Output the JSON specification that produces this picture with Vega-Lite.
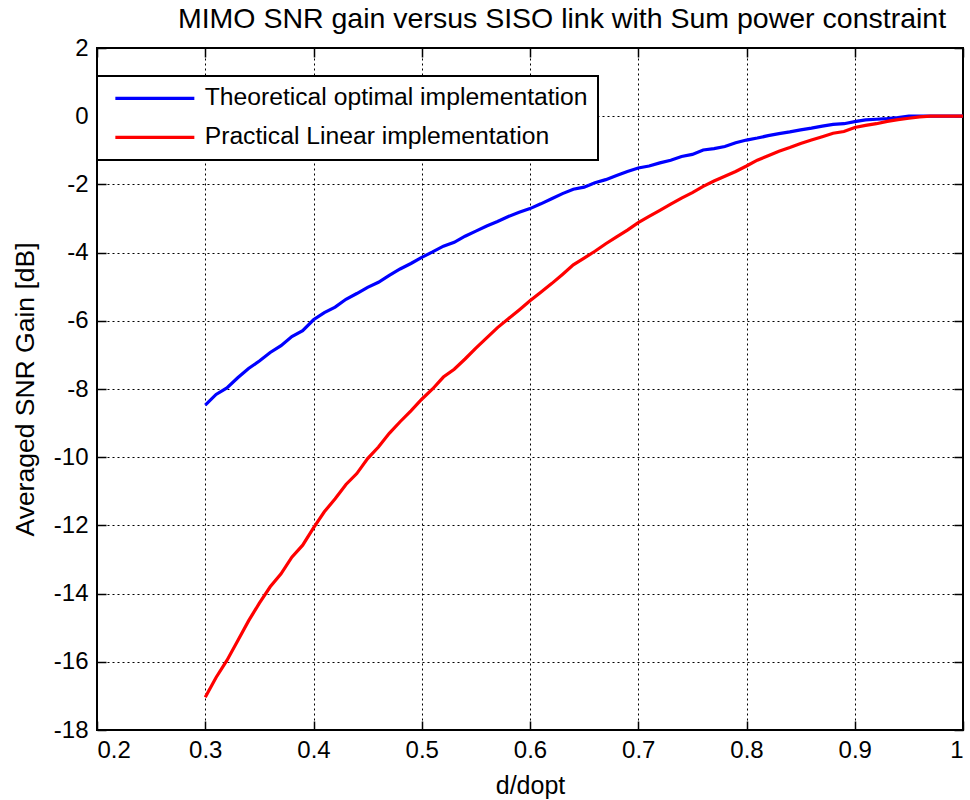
{
  "$schema": "https://vega.github.io/schema/vega-lite/v6.json",
  "width": 866,
  "height": 682,
  "autosize": "none",
  "padding": {"left": 97, "top": 48, "right": 7, "bottom": 70},
  "background": "white",
  "config": {
    "font": "Liberation Sans",
    "view": {"stroke": "black", "strokeWidth": 2},
    "axis": {"labelFont": "Liberation Sans", "titleFont": "Liberation Sans", "labelColor": "black", "titleColor": "black", "titleFontWeight": "normal", "gridDash": [2, 3]},
    "legend": {"strokeColor": "black", "strokeWidth": 2, "fillColor": "white"}
  },
  "title": {"text": "MIMO SNR gain versus SISO link with Sum power constraint", "fontSize": 28.5, "fontWeight": "normal", "font": "Liberation Sans", "color": "black", "anchor": "middle", "offset": 3, "dx": 32},
  "datasets": {
    "curves": [
      {"d":0.30,"gain":-8.47,"series":"Theoretical optimal implementation"},
      {"d":0.31,"gain":-8.16,"series":"Theoretical optimal implementation"},
      {"d":0.32,"gain":-7.97,"series":"Theoretical optimal implementation"},
      {"d":0.33,"gain":-7.67,"series":"Theoretical optimal implementation"},
      {"d":0.34,"gain":-7.40,"series":"Theoretical optimal implementation"},
      {"d":0.35,"gain":-7.18,"series":"Theoretical optimal implementation"},
      {"d":0.36,"gain":-6.93,"series":"Theoretical optimal implementation"},
      {"d":0.37,"gain":-6.73,"series":"Theoretical optimal implementation"},
      {"d":0.38,"gain":-6.46,"series":"Theoretical optimal implementation"},
      {"d":0.39,"gain":-6.29,"series":"Theoretical optimal implementation"},
      {"d":0.40,"gain":-5.97,"series":"Theoretical optimal implementation"},
      {"d":0.41,"gain":-5.76,"series":"Theoretical optimal implementation"},
      {"d":0.42,"gain":-5.60,"series":"Theoretical optimal implementation"},
      {"d":0.43,"gain":-5.37,"series":"Theoretical optimal implementation"},
      {"d":0.44,"gain":-5.20,"series":"Theoretical optimal implementation"},
      {"d":0.45,"gain":-5.02,"series":"Theoretical optimal implementation"},
      {"d":0.46,"gain":-4.87,"series":"Theoretical optimal implementation"},
      {"d":0.47,"gain":-4.67,"series":"Theoretical optimal implementation"},
      {"d":0.48,"gain":-4.48,"series":"Theoretical optimal implementation"},
      {"d":0.49,"gain":-4.32,"series":"Theoretical optimal implementation"},
      {"d":0.50,"gain":-4.14,"series":"Theoretical optimal implementation"},
      {"d":0.51,"gain":-3.98,"series":"Theoretical optimal implementation"},
      {"d":0.52,"gain":-3.81,"series":"Theoretical optimal implementation"},
      {"d":0.53,"gain":-3.70,"series":"Theoretical optimal implementation"},
      {"d":0.54,"gain":-3.52,"series":"Theoretical optimal implementation"},
      {"d":0.55,"gain":-3.37,"series":"Theoretical optimal implementation"},
      {"d":0.56,"gain":-3.22,"series":"Theoretical optimal implementation"},
      {"d":0.57,"gain":-3.09,"series":"Theoretical optimal implementation"},
      {"d":0.58,"gain":-2.94,"series":"Theoretical optimal implementation"},
      {"d":0.59,"gain":-2.82,"series":"Theoretical optimal implementation"},
      {"d":0.60,"gain":-2.71,"series":"Theoretical optimal implementation"},
      {"d":0.61,"gain":-2.57,"series":"Theoretical optimal implementation"},
      {"d":0.62,"gain":-2.42,"series":"Theoretical optimal implementation"},
      {"d":0.63,"gain":-2.27,"series":"Theoretical optimal implementation"},
      {"d":0.64,"gain":-2.14,"series":"Theoretical optimal implementation"},
      {"d":0.65,"gain":-2.08,"series":"Theoretical optimal implementation"},
      {"d":0.66,"gain":-1.95,"series":"Theoretical optimal implementation"},
      {"d":0.67,"gain":-1.86,"series":"Theoretical optimal implementation"},
      {"d":0.68,"gain":-1.74,"series":"Theoretical optimal implementation"},
      {"d":0.69,"gain":-1.62,"series":"Theoretical optimal implementation"},
      {"d":0.70,"gain":-1.52,"series":"Theoretical optimal implementation"},
      {"d":0.71,"gain":-1.46,"series":"Theoretical optimal implementation"},
      {"d":0.72,"gain":-1.37,"series":"Theoretical optimal implementation"},
      {"d":0.73,"gain":-1.29,"series":"Theoretical optimal implementation"},
      {"d":0.74,"gain":-1.18,"series":"Theoretical optimal implementation"},
      {"d":0.75,"gain":-1.12,"series":"Theoretical optimal implementation"},
      {"d":0.76,"gain":-0.99,"series":"Theoretical optimal implementation"},
      {"d":0.77,"gain":-0.95,"series":"Theoretical optimal implementation"},
      {"d":0.78,"gain":-0.89,"series":"Theoretical optimal implementation"},
      {"d":0.79,"gain":-0.78,"series":"Theoretical optimal implementation"},
      {"d":0.80,"gain":-0.70,"series":"Theoretical optimal implementation"},
      {"d":0.81,"gain":-0.64,"series":"Theoretical optimal implementation"},
      {"d":0.82,"gain":-0.57,"series":"Theoretical optimal implementation"},
      {"d":0.83,"gain":-0.51,"series":"Theoretical optimal implementation"},
      {"d":0.84,"gain":-0.46,"series":"Theoretical optimal implementation"},
      {"d":0.85,"gain":-0.40,"series":"Theoretical optimal implementation"},
      {"d":0.86,"gain":-0.35,"series":"Theoretical optimal implementation"},
      {"d":0.87,"gain":-0.29,"series":"Theoretical optimal implementation"},
      {"d":0.88,"gain":-0.24,"series":"Theoretical optimal implementation"},
      {"d":0.89,"gain":-0.22,"series":"Theoretical optimal implementation"},
      {"d":0.90,"gain":-0.16,"series":"Theoretical optimal implementation"},
      {"d":0.91,"gain":-0.11,"series":"Theoretical optimal implementation"},
      {"d":0.92,"gain":-0.09,"series":"Theoretical optimal implementation"},
      {"d":0.93,"gain":-0.07,"series":"Theoretical optimal implementation"},
      {"d":0.94,"gain":-0.04,"series":"Theoretical optimal implementation"},
      {"d":0.95,"gain":0.0,"series":"Theoretical optimal implementation"},
      {"d":0.96,"gain":0.0,"series":"Theoretical optimal implementation"},
      {"d":0.97,"gain":0.0,"series":"Theoretical optimal implementation"},
      {"d":0.98,"gain":0.0,"series":"Theoretical optimal implementation"},
      {"d":0.99,"gain":0.0,"series":"Theoretical optimal implementation"},
      {"d":1.00,"gain":0.0,"series":"Theoretical optimal implementation"},
      {"d":0.30,"gain":-17.04,"series":"Practical Linear implementation"},
      {"d":0.31,"gain":-16.46,"series":"Practical Linear implementation"},
      {"d":0.32,"gain":-15.96,"series":"Practical Linear implementation"},
      {"d":0.33,"gain":-15.38,"series":"Practical Linear implementation"},
      {"d":0.34,"gain":-14.80,"series":"Practical Linear implementation"},
      {"d":0.35,"gain":-14.28,"series":"Practical Linear implementation"},
      {"d":0.36,"gain":-13.80,"series":"Practical Linear implementation"},
      {"d":0.37,"gain":-13.42,"series":"Practical Linear implementation"},
      {"d":0.38,"gain":-12.93,"series":"Practical Linear implementation"},
      {"d":0.39,"gain":-12.58,"series":"Practical Linear implementation"},
      {"d":0.40,"gain":-12.07,"series":"Practical Linear implementation"},
      {"d":0.41,"gain":-11.60,"series":"Practical Linear implementation"},
      {"d":0.42,"gain":-11.22,"series":"Practical Linear implementation"},
      {"d":0.43,"gain":-10.80,"series":"Practical Linear implementation"},
      {"d":0.44,"gain":-10.48,"series":"Practical Linear implementation"},
      {"d":0.45,"gain":-10.04,"series":"Practical Linear implementation"},
      {"d":0.46,"gain":-9.70,"series":"Practical Linear implementation"},
      {"d":0.47,"gain":-9.30,"series":"Practical Linear implementation"},
      {"d":0.48,"gain":-8.96,"series":"Practical Linear implementation"},
      {"d":0.49,"gain":-8.64,"series":"Practical Linear implementation"},
      {"d":0.50,"gain":-8.30,"series":"Practical Linear implementation"},
      {"d":0.51,"gain":-8.00,"series":"Practical Linear implementation"},
      {"d":0.52,"gain":-7.65,"series":"Practical Linear implementation"},
      {"d":0.53,"gain":-7.42,"series":"Practical Linear implementation"},
      {"d":0.54,"gain":-7.12,"series":"Practical Linear implementation"},
      {"d":0.55,"gain":-6.80,"series":"Practical Linear implementation"},
      {"d":0.56,"gain":-6.50,"series":"Practical Linear implementation"},
      {"d":0.57,"gain":-6.20,"series":"Practical Linear implementation"},
      {"d":0.58,"gain":-5.94,"series":"Practical Linear implementation"},
      {"d":0.59,"gain":-5.68,"series":"Practical Linear implementation"},
      {"d":0.60,"gain":-5.41,"series":"Practical Linear implementation"},
      {"d":0.61,"gain":-5.16,"series":"Practical Linear implementation"},
      {"d":0.62,"gain":-4.91,"series":"Practical Linear implementation"},
      {"d":0.63,"gain":-4.64,"series":"Practical Linear implementation"},
      {"d":0.64,"gain":-4.36,"series":"Practical Linear implementation"},
      {"d":0.65,"gain":-4.16,"series":"Practical Linear implementation"},
      {"d":0.66,"gain":-3.96,"series":"Practical Linear implementation"},
      {"d":0.67,"gain":-3.74,"series":"Practical Linear implementation"},
      {"d":0.68,"gain":-3.54,"series":"Practical Linear implementation"},
      {"d":0.69,"gain":-3.34,"series":"Practical Linear implementation"},
      {"d":0.70,"gain":-3.12,"series":"Practical Linear implementation"},
      {"d":0.71,"gain":-2.94,"series":"Practical Linear implementation"},
      {"d":0.72,"gain":-2.76,"series":"Practical Linear implementation"},
      {"d":0.73,"gain":-2.58,"series":"Practical Linear implementation"},
      {"d":0.74,"gain":-2.40,"series":"Practical Linear implementation"},
      {"d":0.75,"gain":-2.24,"series":"Practical Linear implementation"},
      {"d":0.76,"gain":-2.06,"series":"Practical Linear implementation"},
      {"d":0.77,"gain":-1.90,"series":"Practical Linear implementation"},
      {"d":0.78,"gain":-1.76,"series":"Practical Linear implementation"},
      {"d":0.79,"gain":-1.62,"series":"Practical Linear implementation"},
      {"d":0.80,"gain":-1.46,"series":"Practical Linear implementation"},
      {"d":0.81,"gain":-1.29,"series":"Practical Linear implementation"},
      {"d":0.82,"gain":-1.16,"series":"Practical Linear implementation"},
      {"d":0.83,"gain":-1.03,"series":"Practical Linear implementation"},
      {"d":0.84,"gain":-0.92,"series":"Practical Linear implementation"},
      {"d":0.85,"gain":-0.80,"series":"Practical Linear implementation"},
      {"d":0.86,"gain":-0.70,"series":"Practical Linear implementation"},
      {"d":0.87,"gain":-0.60,"series":"Practical Linear implementation"},
      {"d":0.88,"gain":-0.50,"series":"Practical Linear implementation"},
      {"d":0.89,"gain":-0.45,"series":"Practical Linear implementation"},
      {"d":0.90,"gain":-0.33,"series":"Practical Linear implementation"},
      {"d":0.91,"gain":-0.27,"series":"Practical Linear implementation"},
      {"d":0.92,"gain":-0.22,"series":"Practical Linear implementation"},
      {"d":0.93,"gain":-0.15,"series":"Practical Linear implementation"},
      {"d":0.94,"gain":-0.10,"series":"Practical Linear implementation"},
      {"d":0.95,"gain":-0.06,"series":"Practical Linear implementation"},
      {"d":0.96,"gain":-0.02,"series":"Practical Linear implementation"},
      {"d":0.97,"gain":0.0,"series":"Practical Linear implementation"},
      {"d":0.98,"gain":0.0,"series":"Practical Linear implementation"},
      {"d":0.99,"gain":0.0,"series":"Practical Linear implementation"},
      {"d":1.00,"gain":0.0,"series":"Practical Linear implementation"}
    ]
  },
  "data": {"name": "curves"},
  "layer": [
    {
      "mark": {"type": "line", "strokeWidth": 3.2, "clip": true},
      "encoding": {
        "x": {"field": "d", "type": "quantitative", "scale": {"domain": [0.2, 1.0], "nice": false, "zero": false},
              "axis": {"orient": "bottom", "title": "d/dopt", "values": [0.2,0.3,0.4,0.5,0.6,0.7,0.8,0.9,1.0], "labelExpr": "'' + datum.value",
                       "labelFontSize": 24, "titleFontSize": 25, "labelPadding": 17, "titlePadding": 11,
                       "grid": true, "gridColor": "black", "gridWidth": 1, "gridOpacity": 1,
                       "domain": false, "ticks": true, "tickSize": -9, "tickColor": "black", "tickWidth": 1.5}},
        "y": {"field": "gain", "type": "quantitative", "scale": {"domain": [-18, 2], "nice": false, "zero": false},
              "axis": {"orient": "left", "title": "Averaged SNR Gain [dB]", "values": [-18,-16,-14,-12,-10,-8,-6,-4,-2,0,2], "labelExpr": "'' + datum.value",
                       "labelFontSize": 24, "titleFontSize": 26.5, "labelPadding": 18, "titlePadding": 14,
                       "grid": true, "gridColor": "black", "gridWidth": 1, "gridOpacity": 1,
                       "domain": false, "ticks": true, "tickSize": -9, "tickColor": "black", "tickWidth": 1.5}},
        "color": {"field": "series", "type": "nominal",
                  "scale": {"domain": ["Theoretical optimal implementation", "Practical Linear implementation"], "range": ["#0000ff", "#ff0000"]},
                  "legend": {"title": null, "orient": "none", "legendX": 0, "legendY": 28,
                             "symbolType": "M-1,0H14.8", "symbolSize": 100, "symbolStrokeWidth": 3.2, "symbolOffset": 1,
                             "labelFontSize": 24.7, "labelFont": "Liberation Sans", "labelColor": "black", "labelOffset": 72, "labelLimit": 600,
                             "padding": 10, "rowPadding": 13}}
      }
    },
    {
      "mark": {"type": "line", "opacity": 0},
      "encoding": {
        "x": {"field": "d", "type": "quantitative",
              "axis": {"orient": "top", "title": null, "labels": false, "grid": false, "domain": false, "values": [0.2,0.3,0.4,0.5,0.6,0.7,0.8,0.9,1.0],
                       "ticks": true, "tickSize": -9, "tickColor": "black", "tickWidth": 1.5}},
        "y": {"field": "gain", "type": "quantitative",
              "axis": {"orient": "right", "title": null, "labels": false, "grid": false, "domain": false, "values": [-18,-16,-14,-12,-10,-8,-6,-4,-2,0,2],
                       "ticks": true, "tickSize": -9, "tickColor": "black", "tickWidth": 1.5}},
        "detail": {"field": "series"}
      }
    }
  ],
  "resolve": {"axis": {"x": "independent", "y": "independent"}}
}
